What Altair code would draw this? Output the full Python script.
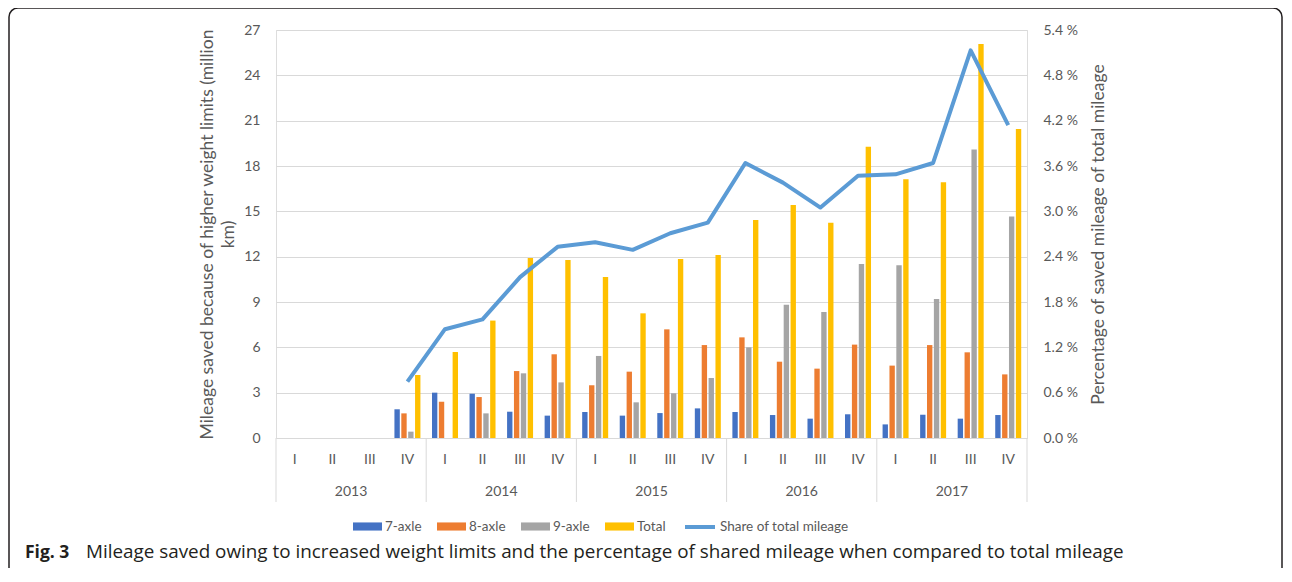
import altair as alt
import pandas as pd

years = ["2013"] * 4 + ["2014"] * 4 + ["2015"] * 4 + ["2016"] * 4 + ["2017"] * 4
quarters = ["I", "II", "III", "IV"] * 5

axle7 = [0, 0, 0, 1.9, 3.0, 2.93, 1.74, 1.48, 1.72, 1.48, 1.65, 1.96,
         1.72, 1.52, 1.28, 1.57, 0.9, 1.54, 1.28, 1.52]
axle8 = [0, 0, 0, 1.63, 2.4, 2.71, 4.43, 5.54, 3.49, 4.39, 7.19, 6.15,
         6.66, 5.05, 4.59, 6.18, 4.79, 6.15, 5.67, 4.21]
axle9 = [0, 0, 0, 0.42, 0, 1.63, 4.28, 3.68, 5.43, 2.36, 2.96, 3.97,
         6.0, 8.82, 8.34, 11.52, 11.43, 9.2, 19.1, 14.65]
total = [0, 0, 0, 4.17, 5.69, 7.77, 11.91, 11.78, 10.66, 8.25, 11.85, 12.11,
         14.43, 15.42, 14.25, 19.28, 17.12, 16.92, 26.07, 20.45]
share = [None, None, None, 0.745, 1.44, 1.57, 2.13, 2.53, 2.59, 2.49, 2.71, 2.85,
         3.64, 3.38, 3.05, 3.47, 3.49, 3.64, 5.13, 4.14]

bar_series = ["7-axle", "8-axle", "9-axle", "Total"]
line_series = "Share of total mileage"
bar_colors = ["#4472C4", "#ED7D31", "#A5A5A5", "#FFC000"]
line_color = "#5B9BD5"

left_ticks = [0, 3, 6, 9, 12, 15, 18, 21, 24, 27]
right_ticks = [0.0, 0.6, 1.2, 1.8, 2.4, 3.0, 3.6, 4.2, 4.8, 5.4]

left_title = ["Mileage saved because of higher weight limits (million", "km)"]
right_title = "Percentage of  saved mileage of  total mileage"
caption_bold = "Fig. 3"
caption_rest = ("Mileage saved owing to increased weight limits and the percentage of "
                "shared mileage when compared to total mileage")

keys = [f"{y} {q}" for y, q in zip(years, quarters)]

rows = []
for i, k in enumerate(keys):
    for s, vals in zip(bar_series, [axle7, axle8, axle9, total]):
        rows.append({"key": k, "series": s, "value": vals[i]})
bars_df = pd.DataFrame(rows)

line_df = pd.DataFrame({"key": keys, "share": share, "series": [line_series] * len(keys)})
line_df = line_df.dropna()

year_names = ["2013", "2014", "2015", "2016", "2017"]
year_df = pd.DataFrame({"key": [f"{y} III" for y in year_names], "year": year_names})
sep_df = pd.DataFrame({"key": [f"{y} I" for y in year_names]})
sep_end_df = pd.DataFrame({"key": ["2017 IV"]})
cap_df = pd.DataFrame({"a": [caption_bold], "b": [caption_rest]})

W, H = 751, 408
FONT = "Lato"
GREY = "#595959"
LIGHT = "#D9D9D9"

xscale = alt.Scale(domain=keys, paddingInner=0, paddingOuter=0)
xaxis = alt.Axis(labelExpr="split(datum.label, ' ')[1]", labelAngle=0, title=None,
                 ticks=False, domainColor=LIGHT, domainWidth=1,
                 labelPadding=14, labelFontSize=14, labelColor=GREY,
                 labelFont=FONT, grid=False)

bars = alt.Chart(bars_df).mark_bar().encode(
    x=alt.X("key:N", scale=xscale, axis=xaxis),
    xOffset=alt.XOffset("series:N", scale=alt.Scale(domain=bar_series, paddingInner=0.22,
                                                    paddingOuter=0.84)),
    y=alt.Y("value:Q", scale=alt.Scale(domain=[0, 27], nice=False),
            axis=alt.Axis(orient="left", values=left_ticks, title=left_title,
                          ticks=False, domain=False, grid=True, gridColor=LIGHT,
                          labelPadding=16, labelFontSize=14, labelColor=GREY, labelFont=FONT,
                          titleFont=FONT, titleFontSize=17.5, titleFontWeight="normal",
                          titleColor=GREY, titleLineHeight=21,
                          titleX=-69, titleY=H / 2, titleBaseline="middle", titleAngle=-90)),
    color=alt.Color("series:N",
                    scale=alt.Scale(domain=bar_series, range=bar_colors),
                    legend=alt.Legend(title=None, orient="none", direction="horizontal",
                                      legendX=77, legendY=482, symbolSize=841,
                                      symbolType="M-1,-0.28H1V0.28H-1Z",
                                      symbolStrokeWidth=0, labelOffset=3, columnPadding=15,
                                      labelFont=FONT, labelFontSize=13.5, labelColor=GREY,
                                      padding=0, columns=4)),
)

line = alt.Chart(line_df).mark_line(strokeWidth=4, strokeJoin="round").encode(
    x=alt.X("key:N", scale=xscale, axis=xaxis),
    y=alt.Y("share:Q", scale=alt.Scale(domain=[0, 5.4], nice=False),
            axis=alt.Axis(orient="right", values=right_ticks, title=right_title,
                          labelExpr="format(datum.value, '.1f') + ' %'",
                          ticks=False, domain=False, grid=False,
                          labelPadding=16, labelFontSize=14, labelColor=GREY, labelFont=FONT,
                          titleFont=FONT, titleFontSize=17.5, titleFontWeight="normal",
                          titleColor=GREY, titleAngle=270, titleX=71, titleY=H / 2,
                          titleBaseline="middle")),
    stroke=alt.Stroke("series:N", scale=alt.Scale(domain=[line_series], range=[line_color]),
                      legend=alt.Legend(title=None, orient="none", legendX=407, legendY=480,
                                        symbolType="stroke", symbolSize=900,
                                        symbolStrokeWidth=4, labelOffset=3,
                                        labelFont=FONT, labelFontSize=13.5, labelColor=GREY,
                                        padding=0)),
)

year_text = alt.Chart(year_df).mark_text(fontSize=14, font=FONT, color=GREY, baseline="middle").encode(
    x=alt.X("key:N", scale=xscale, axis=xaxis, bandPosition=0),
    y=alt.value(H + 54),
    text="year:N",
)

seps = alt.Chart(sep_df).mark_rule(color=LIGHT, strokeWidth=1).encode(
    x=alt.X("key:N", scale=xscale, axis=xaxis, bandPosition=0),
    y=alt.value(H), y2=alt.value(H + 64),
)
sep_end = alt.Chart(sep_end_df).mark_rule(color=LIGHT, strokeWidth=1).encode(
    x=alt.X("key:N", scale=xscale, axis=xaxis, bandPosition=1),
    y=alt.value(H), y2=alt.value(H + 64),
)

cap_a = alt.Chart(cap_df).mark_text(font="Open Sans", fontSize=17.5, fontWeight="bold",
                                    color="#231F20", align="left", baseline="alphabetic").encode(
    x=alt.value(-251), y=alt.value(528), text="a:N")
cap_b = alt.Chart(cap_df).mark_text(font="Open Sans", fontSize=18.85, color="#231F20",
                                    align="left", baseline="alphabetic").encode(
    x=alt.value(-190), y=alt.value(528), text="b:N")

border = alt.Chart(cap_df).mark_rect(fill="transparent", stroke="#231F20", strokeWidth=1.5,
                                     cornerRadius=9).encode(
    x=alt.value(-267), x2=alt.value(1006), y=alt.value(-22), y2=alt.value(600))

chart = alt.layer(bars, line, border, seps, sep_end, year_text, cap_a, cap_b).resolve_scale(
    y="independent"
).properties(
    width=W, height=H,
    autosize=alt.AutoSizeParams(type="none"),
    padding={"left": 268, "top": 22, "right": 257, "bottom": 130},
).configure_view(stroke=None).configure(background="white")

chart.save("out.html", embed_options={"renderer": "svg", "actions": False})
